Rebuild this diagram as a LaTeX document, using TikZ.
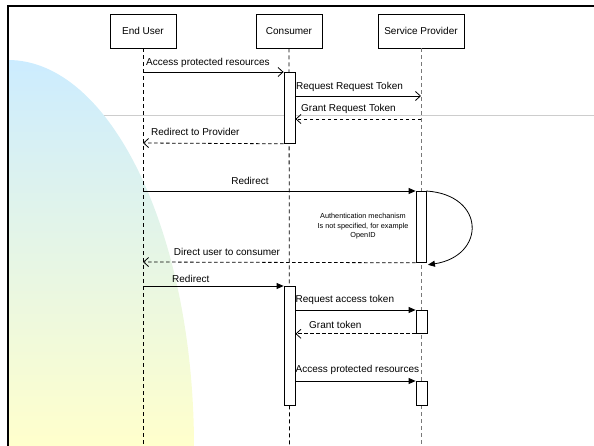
\documentclass[tikz,border=0pt]{standalone}
\usepackage{fontspec}
\setmainfont{Liberation Sans}
\usetikzlibrary{arrows.meta}
\definecolor{skyb}{RGB}{204,236,255}
\definecolor{paley}{RGB}{255,255,204}
\definecolor{midg}{RGB}{232,246,226}
\definecolor{gline}{RGB}{205,205,205}
\definecolor{spline}{RGB}{120,120,120}
\tikzset{
  head/.style={draw, line width=0.8pt, minimum height=34pt, inner sep=0pt, font=\fontsize{10}{12}\selectfont},
  lifeblack/.style={draw, line width=0.8pt, dash pattern=on 4pt off 3pt},
  lifegray/.style={draw=spline, line width=1pt, dash pattern=on 4pt off 3pt},
  bar/.style={draw, fill=white, line width=0.8pt, minimum width=11pt, inner sep=0pt, anchor=north},
  msg/.style={line width=0.8pt},
  reply/.style={line width=0.8pt, dash pattern=on 3.5pt off 2.5pt},
  openhead/.style={-{Straight Barb[length=5pt,width=9pt]}},
  fillhead/.style={-{Triangle[length=7pt,width=6pt]}},
  lbl/.style={inner sep=0pt, font=\fontsize{10}{12}\selectfont},
  small/.style={inner sep=0pt, align=center, font=\fontsize{7.3}{9.6}\selectfont}
}
\begin{document}
\begin{tikzpicture}[x=1pt,y=-1pt]
\useasboundingbox (0,0) rectangle (594,446);
% background gray line
\draw[gline, line width=1pt] (8,116) -- (594,116);
% gradient quarter ellipse
\begin{scope}
  \clip (8,60) rectangle (594,446);
  \clip (8,447) ellipse [x radius=186, y radius=387];
  \shade[top color=skyb, middle color=midg, bottom color=paley] (8,60) rectangle (200,446);
\end{scope}
% heads
\node[head, minimum width=66pt] (eu) at (143,31) {End User};
\node[head, minimum width=66pt] (co) at (289,31) {Consumer};
\node[head, minimum width=86pt] (sp) at (421,31) {Service Provider};
\coordinate (euend) at (143,446);
\coordinate (coend) at (289.5,446);
\coordinate (spend) at (421,446);
\draw[lifeblack] (eu.south) -- (euend);
\draw[lifeblack] (co.south) -- (coend);
\draw[lifegray] (sp.south) -- (spend);
% activation bars
\node[bar, minimum height=71pt] (c1) at (289.5,72) {};
\node[bar, minimum height=71pt, minimum width=10pt] (s1) at (421,191) {};
\node[bar, minimum height=119pt] (c2) at (289.5,286) {};
\node[bar, minimum height=23pt] (s2) at (421.5,310) {};
\node[bar, minimum height=24pt] (s3) at (421.5,381) {};
% message end points
\coordinate (a1) at (143,72);
\coordinate (a4) at (143,143);
\coordinate (a5) at (143,191);
\coordinate (a6) at (143,262);
\coordinate (a7) at (143,286);
\coordinate (b2) at (421,96);
\coordinate (b3) at (421,119);
% messages
\draw[msg, openhead] (a1) -- (c1.north west);
\node[lbl, anchor=base west] at (146,66) {Access protected resources};
\draw[msg, openhead] (c1.east |- b2) -- (b2);
\node[lbl, anchor=base west] at (296,89.5) {Request Request Token};
\draw[reply, openhead] (b3) -- (c1.east |- b3);
\node[lbl, anchor=base west] at (301,112) {Grant Request Token};
\draw[reply, openhead] (c1.south west) -- (a4);
\node[lbl, anchor=base west] at (151,136) {Redirect to Provider};
\draw[msg, fillhead] (a5) -- (s1.north west);
\node[lbl, anchor=base] at (250,185) {Redirect};
\draw[msg, fillhead] (s1.north east) .. controls (486,195) and (486,256) .. ([xshift=1.5pt,yshift=-2pt]s1.south east);
\node[small] at (363,226.5) {Authentication mechanism\\Is not specified, for example\\OpenID};
\draw[reply, openhead] (s1.south west) -- (a6);
\node[lbl, anchor=base] at (227,255.5) {Direct user to consumer};
\draw[msg, fillhead] (a7) -- (c2.north west);
\node[lbl, anchor=base west] at (172,282.5) {Redirect};
\draw[msg, fillhead] (c2.east |- s2.north west) -- (s2.north west);
\node[lbl, anchor=base west] at (295.5,302.5) {Request access token};
\draw[reply, openhead] (s2.south west) -- (c2.east |- s2.south west);
\node[lbl, anchor=base west] at (309,328.5) {Grant token};
\draw[msg, fillhead] (c2.east |- s3.north west) -- (s3.north west);
\node[lbl, anchor=base west] at (295.5,372.5) {Access protected resources};
% frame
\draw[line width=2.5pt] (7.8,446) -- (7.8,6) -- (594,6);
\end{tikzpicture}
\end{document}
